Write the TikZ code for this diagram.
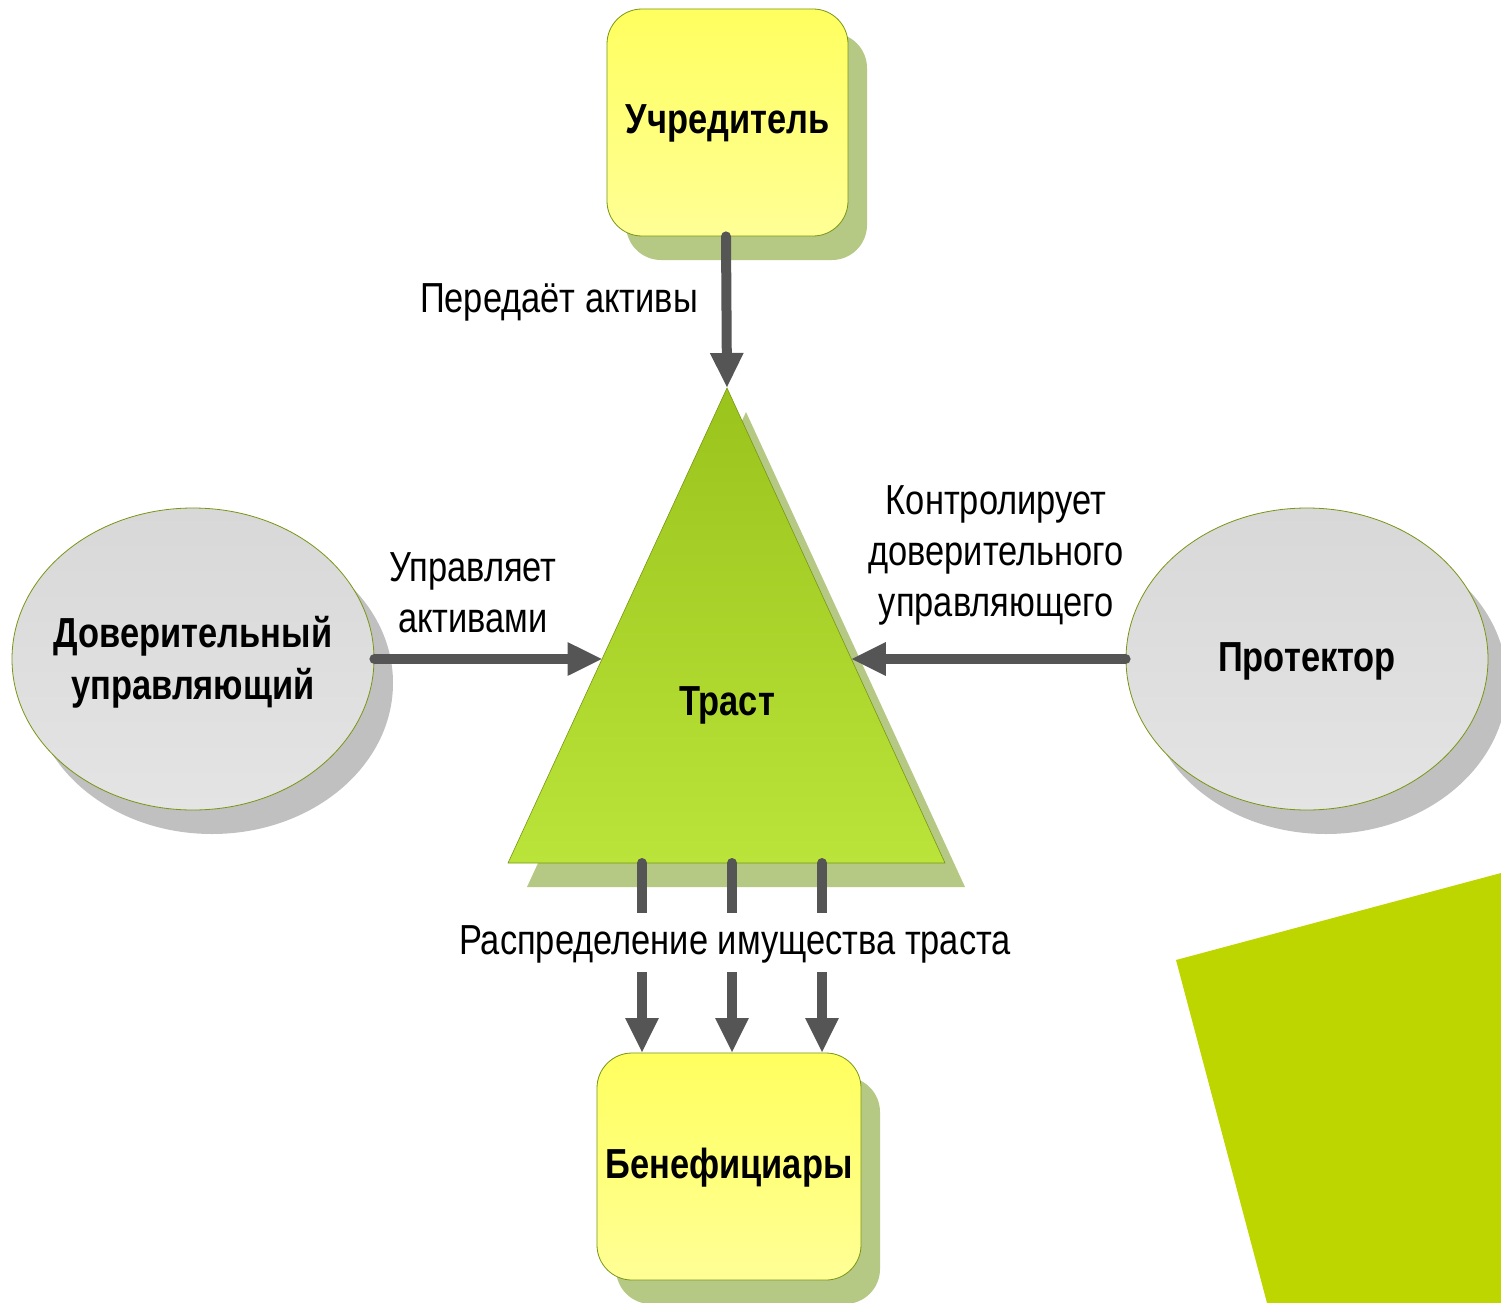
\documentclass[tikz,border=0pt]{standalone}
\usepackage{fontspec}
\setmainfont{Liberation Sans}[FakeStretch=0.82]
\usetikzlibrary{arrows.meta,shapes.geometric,calc}
\definecolor{boxtop}{RGB}{255,255,95}
\definecolor{boxbot}{RGB}{255,255,150}
\definecolor{olive}{RGB}{120,150,20}
\definecolor{shgreen}{RGB}{181,201,133}
\definecolor{shgray}{RGB}{192,192,192}
\definecolor{elltop}{RGB}{216,216,216}
\definecolor{ellbot}{RGB}{228,228,228}
\definecolor{tritop}{RGB}{154,196,28}
\definecolor{tribot}{RGB}{187,228,58}
\definecolor{conn}{RGB}{85,85,85}
\definecolor{corner}{RGB}{190,214,0}
\tikzset{
  boldtext/.style={font=\bfseries\fontsize{42}{52}\selectfont, align=center, inner sep=0pt},
  roundbox/.style={draw=olive, line width=0.8pt, rounded corners=35pt, top color=boxtop, bottom color=boxbot,
    minimum width=#1, minimum height=227pt, inner sep=0pt, font=\bfseries\fontsize{42}{52}\selectfont},
  ovalbox/.style={ellipse, draw=olive, line width=0.8pt, top color=elltop, bottom color=ellbot,
    minimum width=362pt, minimum height=302pt, inner sep=0pt},
  lbl/.style={font=\fontsize{42}{51}\selectfont, align=center, inner sep=0pt},
  conline/.style={draw=conn, line width=10pt},
  arr/.style={conline, line cap=round, -{Triangle[width=31pt,length=35pt]}},
}
\begin{document}
\begin{tikzpicture}[x=1pt,y=-1pt]
\useasboundingbox (0,0) rectangle (1501,1303);
% decorative corner
\fill[corner] (1176,960) -- (1501,873) -- (1501,1303) -- (1267,1303) -- cycle;
% shadows
\fill[shgreen, rounded corners=35pt] (626,33) rectangle (867,260);
\fill[shgreen, rounded corners=35pt] (616,1077) rectangle (880,1304);
\fill[shgray] (212,683) ellipse [x radius=181, y radius=151];
\fill[shgray] (1326,683) ellipse [x radius=181, y radius=151];
\fill[shgreen] (746,412) -- (965,887) -- (527,887) -- cycle;
% triangle
\coordinate (apex) at (727,388);
\coordinate (bl) at (508,863);
\coordinate (br) at (945,863);
\shade[top color=tritop, bottom color=tribot, draw=olive, line width=0.6pt] (apex) -- (br) -- (bl) -- cycle;
\node[boldtext] (trust) at (727,705) {Траст};
\coordinate (tl) at ($(apex)!0.568!(bl)$);
\coordinate (tr) at ($(apex)!0.568!(br)$);
% nodes
\node[roundbox=241pt] (founder) at (727.5,122.5) {};
\node[boldtext] (founderT) at (727.5,123.5) {Учредитель};
\node[roundbox=264pt] (benef) at (729,1166.5) {};
\node[boldtext] (benefT) at (729,1167.5) {Бенефициары};
\node[ovalbox] (trustee) at (193,659) {};
\node[boldtext] (trusteeT) at (193,662) {Доверительный\\управляющий};
\node[ovalbox] (protector) at (1307,659) {};
\node[boldtext] (protectorT) at (1307,661) {Протектор};
% connectors
\draw[arr] (founder.south -| 726,0) -- (apex);
\draw[arr] (trustee.east) -- (tl |- trustee.east);
\draw[arr] (protector.west) -- (tr |- protector.west);
\foreach \x/\n in {642/a,732/b,822/c}{
  \coordinate (s\n) at (\x,863);
  \coordinate (e\n) at (\x,1053);
  \draw[arr] (s\n) -- (e\n);
}
% labels
\node[lbl] (l1) at (559,302) {Передаёт активы};
\node[lbl] (l2) at (473,593) {Управляет\\активами};
\node[lbl] (l3) at (996,555) {Контролирует\\доверительного\\управляющего};
\fill[white] (455,913) rectangle (1015,972);
\node[lbl] (l4) at (735,944) {Распределение имущества траста};
\end{tikzpicture}
\end{document}
